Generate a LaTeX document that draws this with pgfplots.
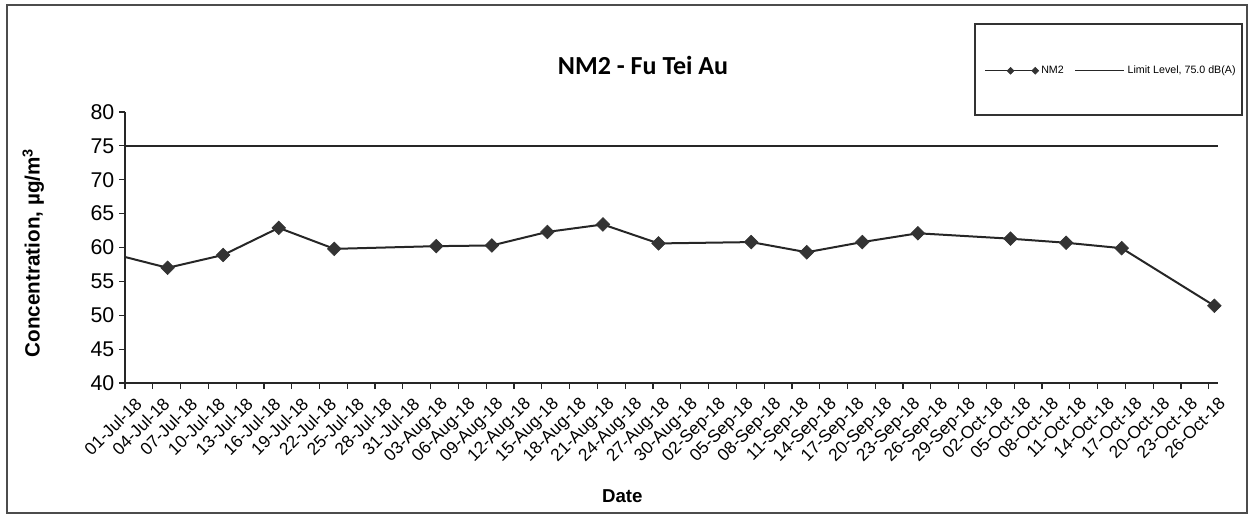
\documentclass[border=0pt]{standalone}
\usepackage{fontspec}
\setmainfont{Liberation Sans}
\newfontfamily\titlefont{Carlito}
\usepackage{pgfplots}
\pgfplotsset{compat=1.18}
\pgfplotsset{
  nmleg/.style={legend image code/.code={\draw[##1, line width=0.9pt, mark size=1.8pt, mark repeat=2, mark phase=2]
        plot coordinates {(0pt,0pt) (19pt,0pt) (37.5pt,0pt)};}},
  limleg/.style={legend image code/.code={\draw[##1, line width=0.9pt] (0pt,0pt) -- (37pt,0pt);}},
}

% NM2 readings: day counted from 01-Jul-18, value in ug/m3
\pgfplotstableread{
day   conc
0.0   58.6
4.6   57.0
10.6  58.9
16.6  62.9
22.6  59.8
33.6  60.2
39.6  60.3
45.6  62.3
51.6  63.4
57.6  60.6
67.6  60.8
73.6  59.3
79.6  60.8
85.6  62.1
95.6  61.3
101.6 60.7
107.6 59.9
117.6 51.4
}\nmtwo

\begin{document}
\begin{tikzpicture}
  % page is 1251x515 px, 1 px = 0.75pt
  \path[use as bounding box] (0,0) rectangle (938.25pt,386.25pt);
  \draw[black!70, line width=1pt] (5.25pt,1.5pt) rectangle (935.25pt,382.5pt);
  \draw[black!80, line width=0.8pt] (731.25pt,300pt) rectangle (931.5pt,368.25pt);

  \begin{axis}[
    scale only axis,
    width=819.75pt, height=203.25pt,
    at={(93.75pt,99pt)}, anchor=south west,
    xmin=0, xmax=118, ymin=40, ymax=80,
    axis x line=bottom, axis y line=left,
    axis line style={-, line width=1pt, black!85},
    tick style={line width=0.9pt, black!85},
    tick align=outside, major tick length=4.5pt,
    ytick={40,45,...,80},
    xtick={0,3,...,117},
    xticklabels={01-Jul-18,04-Jul-18,07-Jul-18,10-Jul-18,13-Jul-18,16-Jul-18,19-Jul-18,22-Jul-18,25-Jul-18,28-Jul-18,31-Jul-18,03-Aug-18,06-Aug-18,09-Aug-18,12-Aug-18,15-Aug-18,18-Aug-18,21-Aug-18,24-Aug-18,27-Aug-18,30-Aug-18,02-Sep-18,05-Sep-18,08-Sep-18,11-Sep-18,14-Sep-18,17-Sep-18,20-Sep-18,23-Sep-18,26-Sep-18,29-Sep-18,02-Oct-18,05-Oct-18,08-Oct-18,11-Oct-18,14-Oct-18,17-Oct-18,20-Oct-18,23-Oct-18,26-Oct-18},
    x tick label style={rotate=45, anchor=north east, inner sep=0.5pt, xshift=1.5pt, yshift=-8pt,
      font=\fontsize{13}{15}\selectfont},
    y tick label style={font=\fontsize{16}{18}\selectfont},
    /pgf/number format/assume math mode=true,
    clip=false,
    title={\titlefont\bfseries NM2 - Fu Tei Au},
    title style={at={(axis description cs:0.474,1.144)}, anchor=center, font=\fontsize{19.5}{22}\selectfont},
    xlabel={\bfseries Date},
    xlabel style={at={(axis description cs:0.455,-0.417)}, anchor=center, font=\fontsize{14}{16}\selectfont},
    ylabel={\bfseries Concentration, µg/m\textsuperscript{3}},
    ylabel style={at={(axis description cs:-0.084,0.48)}, anchor=center, rotate=0, font=\fontsize{15.5}{18}\selectfont},
    legend columns=2,
    legend style={at={(axis description cs:0.785,1.152)}, anchor=west, draw=none, fill=none,
      font=\fontsize{8}{9.5}\selectfont, inner sep=1pt},
    /tikz/every even column/.append style={column sep=6pt},
  ]
    \addplot[black!85, line width=1.5pt, mark=square*, mark indices={2,...,18},
      mark options={rotate=45, fill=black!80, draw=black!80, line width=0.5pt}, mark size=3.6pt, nmleg]
      table[x=day, y=conc] {\nmtwo};
    \addlegendentry{NM2}
    \addplot[black!85, line width=1.5pt, limleg]
      coordinates {(0,75) (118,75)};
    \addlegendentry{Limit Level, 75.0 dB(A)}
  \end{axis}
\end{tikzpicture}
\end{document}
